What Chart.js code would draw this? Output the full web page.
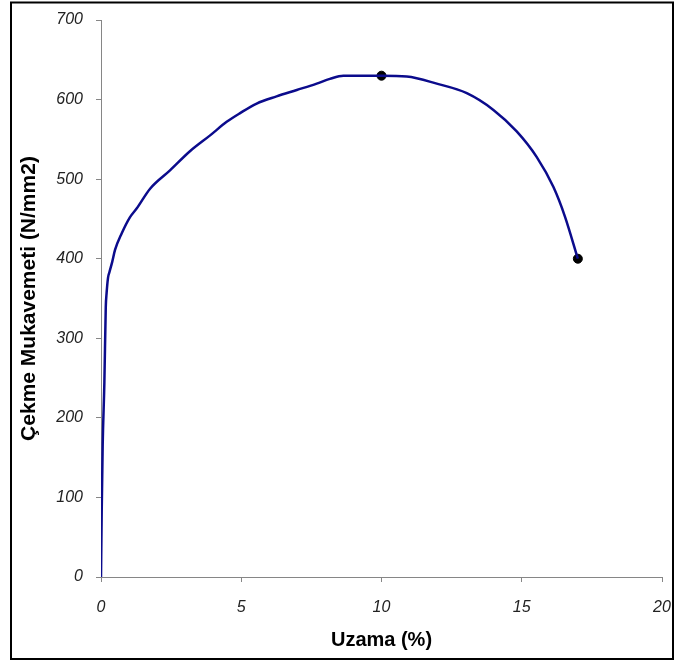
<!DOCTYPE html>
<html>
<head>
<meta charset="utf-8">
<script src="https://cdn.jsdelivr.net/npm/chart.js@4/dist/chart.umd.min.js"></script>
<style>
  html, body { margin: 0; padding: 0; background: #fff; }
  #wrap { position: relative; width: 675px; height: 662px; }
</style>
</head>
<body>
<div id="wrap"><canvas id="c" width="675" height="662"></canvas></div>
<script>
// Stress–strain curve: elongation (%) vs tensile strength (N/mm2)
const elongation = [0, 0.025, 0.06, 0.12, 0.17, 0.2, 0.25, 0.3, 0.4, 0.5, 0.74, 1.03, 1.27, 1.75, 2.46, 3.17, 3.89, 4.48, 4.96, 5.55, 6.26, 6.98, 7.69, 8.16, 8.64, 9.35, 10, 10.9, 11.97, 13.04, 13.99, 14.82, 15.53, 16.13, 16.54, 17];
const strength   = [0, 82, 166, 244, 339, 357, 376, 383, 396, 411, 432, 452, 463, 488, 511, 535, 555, 572, 583, 595, 604, 612, 620, 626, 630, 630, 630, 629, 620, 608, 587, 560, 528, 490, 453, 400];

// Marked points: ultimate strength and fracture
const markX = [10, 17];
const markY = [630, 400];

const xTicks = [0, 5, 10, 15, 20];
const yTicks = [0, 100, 200, 300, 400, 500, 600, 700];

const xTitle = 'Uzama (%)';
const yTitle = 'Çekme Mukavemeti (N/mm2)';

const curve = elongation.map((x, i) => ({ x: x, y: strength[i] }));
const marks = markX.map((x, i) => ({ x: x, y: markY[i] }));

const frame = {
  id: 'frame',
  afterDraw(chart) {
    const ctx = chart.ctx;
    ctx.save();
    ctx.strokeStyle = '#000';
    ctx.lineWidth = 2;
    ctx.strokeRect(11, 2.5, 662, 656.5);
    ctx.restore();
  }
};

const axisColor = '#868686';
const tickFont = { family: 'Liberation Sans', size: 16, style: 'italic' };

new Chart(document.getElementById('c'), {
  type: 'line',
  data: {
    datasets: [
      {
        data: curve,
        borderColor: '#0b0b8c',
        borderWidth: 2.5,
        pointRadius: 0,
        cubicInterpolationMode: 'monotone',
        fill: false
      },
      {
        data: marks,
        showLine: false,
        pointRadius: 4.5,
        pointBackgroundColor: '#000',
        pointBorderColor: '#000'
      }
    ]
  },
  options: {
    responsive: false,
    animation: false,
    layout: { padding: { left: 0, right: 13, top: 20, bottom: 0 } },
    plugins: { legend: { display: false }, tooltip: { enabled: false } },
    scales: {
      x: {
        type: 'linear',
        min: 0, max: 20,
        afterBuildTicks(scale) { scale.ticks = xTicks.map(v => ({ value: v })); },
        afterFit(scale) {
          scale.height = 85;
          // the end labels fit inside the frame margin already
          scale.paddingLeft = 0;
          scale.paddingRight = 0;
        },
        grid: { drawOnChartArea: false, drawTicks: true, tickLength: 5, color: axisColor },
        border: { color: axisColor, width: 1 },
        ticks: { color: '#222', font: tickFont, padding: 16, maxRotation: 0 },
        title: { display: true, text: xTitle, color: '#000', font: { family: 'Liberation Sans', size: 20, weight: 'bold' }, padding: { top: 0, bottom: 10 } }
      },
      y: {
        type: 'linear',
        min: 0, max: 700,
        afterBuildTicks(scale) { scale.ticks = yTicks.map(v => ({ value: v })); },
        afterFit(scale) {
          scale.width = 101;
          scale.paddingTop = 0;
          scale.paddingBottom = 0;
        },
        grid: { drawOnChartArea: false, drawTicks: true, tickLength: 5, color: axisColor },
        border: { color: axisColor, width: 1 },
        ticks: { color: '#222', font: tickFont, padding: 13 },
        title: { display: true, text: yTitle, color: '#000', font: { family: 'Liberation Sans', size: 21, weight: 'bold' }, padding: { top: 17, bottom: 0 } }
      }
    }
  },
  plugins: [frame]
});
</script>
</body>
</html>
